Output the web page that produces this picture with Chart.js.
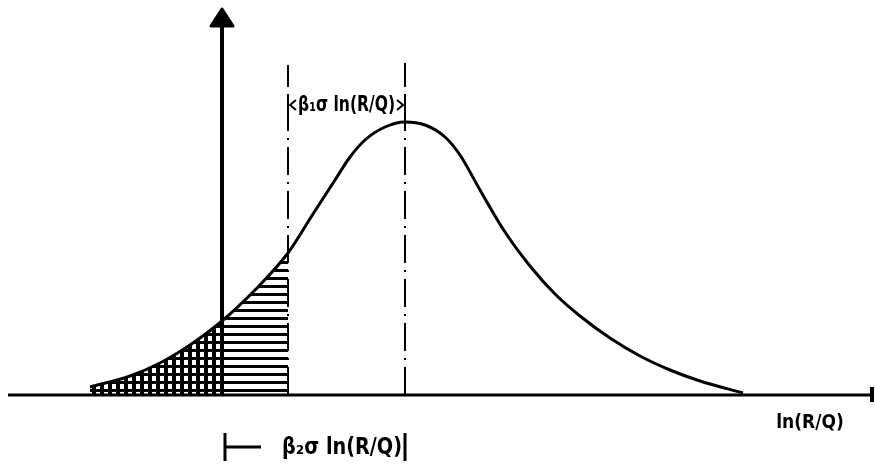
<!DOCTYPE html>
<html lang="en">
<head>
    <meta charset="UTF-8">
    <title>Distribuição de ln(R/Q)</title>
    <script src="https://cdn.jsdelivr.net/npm/chart.js@4.4.1/dist/chart.umd.min.js"></script>
    <style>
        body { margin: 0; background: #fff; }
        #box { width: 875px; height: 466px; }
    </style>
</head>
<body>
    <div id="box"><canvas id="grafico" width="875" height="466"></canvas></div>

<script>
    // curva da densidade de ln(R/Q) (x em unidades de ln(R/Q), y = densidade)
    const curvaX = [-1.32, -0.92, -0.62, -0.32, 0, 0.33, 0.66, 0.91, 1.13, 1.28, 1.43, 1.63, 1.83,
                    2.03, 2.23, 2.38, 2.58, 2.83, 3.08, 3.33, 3.58, 3.88, 4.18, 4.48, 4.78, 5.21];
    const curvaY = [0.08, 0.19, 0.32, 0.50, 0.74, 1.05, 1.42, 1.81, 2.15, 2.38, 2.55, 2.68, 2.73,
                    2.70, 2.58, 2.40, 2.05, 1.63, 1.29, 1.01, 0.79, 0.57, 0.39, 0.25, 0.14, 0.02];

    // posições de referência no eixo ln(R/Q)
    const media = 1.83;          // pico da curva
    const limite = 0.66;         // média - beta1 * sigma
    const eixoX = [-2.14, 6.50]; // extensão do eixo horizontal
    const eixoY = [0, 3.70];     // extensão do eixo vertical
    const topoTracos = [3.30, 3.32]; // topo das linhas traço-ponto (limite, media)

    const rotuloEixo = 'ln(R/Q)';
    const rotuloBeta1 = 'β₁σ ln(R/Q)';
    const rotuloBeta2 = 'β₂σ ln(R/Q)';

    function pontos(xs, ys) {
        return xs.map((x, i) => ({ x: x, y: ys[i] }));
    }

    // trechos da curva para as áreas hachuradas
    const todos = pontos(curvaX, curvaY);
    const trechoCruzado = todos.filter(p => p.x <= 0);
    const trechoRiscado = todos.filter(p => p.x >= 0 && p.x <= limite);

    function padrao(cruzado) {
        const c = document.createElement('canvas');
        c.width = 8; c.height = 8;
        const g = c.getContext('2d');
        g.fillStyle = '#000';
        g.fillRect(0, 5, 8, 3);
        if (cruzado) g.fillRect(4, 0, 4, 8);
        return g.createPattern(c, 'repeat');
    }

    const ctx = document.getElementById('grafico').getContext('2d');

    const marcas = {
        id: 'marcas',
        afterDatasetsDraw(chart) {
            const sx = chart.scales.x, sy = chart.scales.y;
            const g = chart.ctx;
            g.save();
            g.fillStyle = '#000';
            g.strokeStyle = '#000';

            // ponta da seta do eixo vertical
            const ax = sx.getPixelForValue(0);
            const ay = sy.getPixelForValue(eixoY[1]);
            g.beginPath();
            g.moveTo(ax, ay - 16);
            g.lineTo(ax - 11, ay + 1);
            g.lineTo(ax + 11, ay + 1);
            g.closePath();
            g.lineJoin = 'round';
            g.lineWidth = 3;
            g.fill();
            g.stroke();

            // traço no fim do eixo horizontal
            const fx = sx.getPixelForValue(eixoX[1]);
            const fy = sy.getPixelForValue(0);
            g.lineWidth = 4;
            g.beginPath();
            g.moveTo(fx, fy - 8);
            g.lineTo(fx, fy + 7);
            g.stroke();

            g.font = 'bold 19px "DejaVu Sans Condensed", "DejaVu Sans", sans-serif';
            g.textBaseline = 'middle';

            // rótulo do eixo
            g.textAlign = 'center';
            g.fillText(rotuloEixo, sx.getPixelForValue(5.88), sy.getPixelForValue(-0.28), 72);

            // cota beta1 entre o limite e a média
            const x1 = sx.getPixelForValue(limite);
            const x2 = sx.getPixelForValue(media);
            const yc = sy.getPixelForValue(2.90);
            g.lineWidth = 2;
            g.beginPath();
            g.moveTo(x1, yc - 10); g.lineTo(x1, yc + 10);
            g.moveTo(x1 + 8, yc - 5); g.lineTo(x1 + 2, yc); g.lineTo(x1 + 8, yc + 5);
            g.moveTo(x2, yc - 10); g.lineTo(x2, yc + 10);
            g.moveTo(x2 - 8, yc - 5); g.lineTo(x2 - 2, yc); g.lineTo(x2 - 8, yc + 5);
            g.stroke();
            g.font = 'bold 21px "DejaVu Sans Condensed", "DejaVu Sans", sans-serif';
            g.fillText(rotuloBeta1, (x1 + x2) / 2, yc + 1, x2 - x1 - 20);

            // cota beta2 abaixo do eixo
            const x0 = sx.getPixelForValue(0.03);
            const yb = sy.getPixelForValue(-0.52);
            g.lineWidth = 3;
            g.beginPath();
            g.moveTo(x0, yb - 14); g.lineTo(x0, yb + 14);
            g.moveTo(x0, yb); g.lineTo(x0 + 36, yb);
            g.moveTo(x2, yb - 14); g.lineTo(x2, yb + 14);
            g.stroke();
            g.font = 'bold 23px "DejaVu Sans Condensed", "DejaVu Sans", sans-serif';
            g.fillText(rotuloBeta2, sx.getPixelForValue(1.20), yb + 1, 120);

            g.restore();
        }
    };

    new Chart(ctx, {
        type: 'line',
        data: {
            datasets: [
                {
                    data: trechoCruzado,
                    fill: 'origin',
                    backgroundColor: padrao(true),
                    borderWidth: 0,
                    pointRadius: 0,
                    cubicInterpolationMode: 'monotone'
                },
                {
                    data: trechoRiscado,
                    fill: 'origin',
                    backgroundColor: padrao(false),
                    borderWidth: 0,
                    pointRadius: 0,
                    cubicInterpolationMode: 'monotone'
                },
                {
                    data: todos,
                    borderColor: '#000',
                    borderWidth: 3,
                    pointRadius: 0,
                    fill: false,
                    cubicInterpolationMode: 'monotone'
                },
                {
                    // eixo horizontal
                    data: pontos(eixoX, [0, 0]),
                    borderColor: '#000',
                    borderWidth: 3,
                    pointRadius: 0
                },
                {
                    // eixo vertical
                    data: pontos([0, 0], eixoY),
                    borderColor: '#000',
                    borderWidth: 4,
                    pointRadius: 0
                },
                {
                    data: pontos([limite, limite], [0, topoTracos[0]]),
                    borderColor: '#000',
                    borderWidth: 2,
                    borderDash: [28, 7, 2, 7],
                    pointRadius: 0
                },
                {
                    data: pontos([media, media], [0, topoTracos[1]]),
                    borderColor: '#000',
                    borderWidth: 2,
                    borderDash: [28, 7, 2, 7],
                    pointRadius: 0
                }
            ]
        },
        options: {
            responsive: false,
            animation: false,
            devicePixelRatio: 1,
            layout: { padding: 0 },
            plugins: {
                legend: { display: false },
                tooltip: { enabled: false }
            },
            scales: {
                x: { type: 'linear', min: -2.22, max: 6.53, display: false },
                y: { type: 'linear', min: -0.71, max: 3.95, display: false }
            }
        },
        plugins: [marcas]
    });
</script>
</body>
</html>
